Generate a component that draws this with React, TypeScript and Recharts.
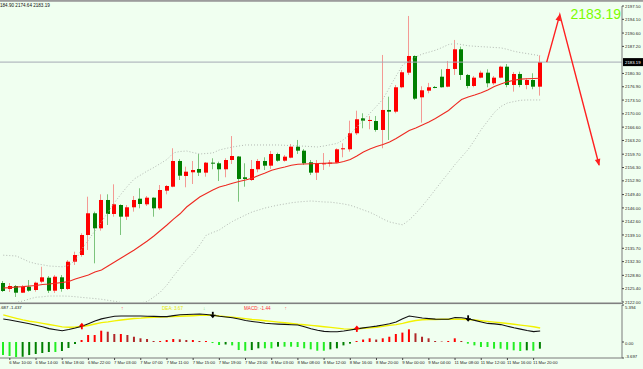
import React from "react"
import { ComposedChart, Bar, Line, XAxis, YAxis, ReferenceLine, Cell } from "recharts"

// H1 candles, oldest first
const openP = [
  2126.85, 2125.32, 2126.08, 2124.37, 2125.90, 2125.06, 2127.18, 2128.20, 2124.88, 2128.30,
  2125.32, 2132.28, 2133.99, 2139.09, 2144.63, 2140.80, 2148.02, 2144.45, 2146.74, 2143.76,
  2146.16, 2148.35, 2146.92, 2148.61, 2145.90, 2150.39, 2151.41, 2157.97, 2154.14, 2155.09,
  2155.93, 2154.99, 2157.54, 2157.38, 2155.85, 2158.22, 2159.11, 2153.81, 2153.12, 2155.85,
  2157.97, 2156.77, 2159.75, 2158.04, 2158.81, 2161.62, 2160.60, 2157.64, 2154.99, 2157.12,
  2157.38, 2157.54, 2160.95, 2160.95, 2165.04, 2168.86, 2168.17, 2168.17, 2165.88, 2170.98,
  2170.55, 2176.77, 2180.49, 2184.75, 2174.21, 2175.90, 2176.85, 2179.47, 2176.92, 2181.44,
  2186.46, 2179.91, 2177.10, 2179.22, 2180.49, 2177.79, 2179.22, 2182.02, 2177.36, 2180.16,
  2177.36, 2178.63, 2176.92,
]
const highP = [
  2127.36, 2126.85, 2126.34, 2126.34, 2127.61, 2127.18, 2131.00, 2128.63, 2128.89, 2128.89,
  2132.71, 2134.83, 2139.52, 2148.86, 2145.04, 2149.47, 2149.47, 2152.02, 2146.92, 2146.74,
  2149.04, 2151.01, 2149.04, 2148.70, 2151.84, 2151.84, 2161.21, 2158.48, 2156.52, 2157.97,
  2159.75, 2157.71, 2158.66, 2157.79, 2158.66, 2164.33, 2159.24, 2157.38, 2158.22, 2158.48,
  2158.91, 2160.52, 2160.09, 2159.50, 2162.30, 2163.33, 2161.03, 2158.22, 2158.22, 2159.99,
  2158.22, 2161.21, 2162.48, 2168.25, 2170.80, 2170.14, 2169.45, 2169.45, 2185.01, 2174.37,
  2177.36, 2181.18, 2194.96, 2184.90, 2177.02, 2177.88, 2177.10, 2181.36, 2183.48, 2188.84,
  2187.13, 2180.16, 2179.65, 2181.01, 2181.36, 2179.65, 2182.27, 2182.71, 2180.67, 2180.75,
  2179.06, 2180.34, 2184.90,
]
const lowP = [
  2124.55, 2124.55, 2123.28, 2124.30, 2124.63, 2124.63, 2126.77, 2124.30, 2124.30, 2124.63,
  2125.06, 2131.44, 2133.56, 2135.27, 2131.87, 2140.19, 2141.64, 2143.76, 2139.09, 2142.92,
  2145.04, 2145.90, 2146.49, 2143.76, 2145.47, 2149.47, 2151.26, 2153.12, 2151.26, 2152.10,
  2154.14, 2153.96, 2155.85, 2152.87, 2153.81, 2157.20, 2147.59, 2151.41, 2152.87, 2155.09,
  2155.67, 2155.93, 2157.79, 2157.79, 2158.66, 2159.75, 2156.95, 2154.40, 2153.12, 2155.67,
  2156.52, 2157.38, 2158.91, 2160.34, 2164.60, 2166.31, 2166.06, 2165.44, 2161.21, 2163.33,
  2170.14, 2176.51, 2179.91, 2173.53, 2167.74, 2175.24, 2176.51, 2176.70, 2176.77, 2179.91,
  2178.63, 2176.51, 2176.77, 2179.06, 2176.77, 2177.36, 2179.06, 2176.77, 2175.66, 2176.77,
  2176.26, 2176.26, 2174.64,
]
const closeP = [
  2124.81, 2126.08, 2124.37, 2125.90, 2124.88, 2126.92, 2128.30, 2124.88, 2128.45, 2125.32,
  2132.28, 2133.99, 2139.09, 2144.63, 2140.80, 2148.02, 2144.45, 2146.92, 2143.76, 2146.16,
  2148.02, 2147.00, 2148.61, 2145.90, 2150.57, 2151.59, 2157.97, 2154.22, 2155.24, 2155.67,
  2154.99, 2157.54, 2157.38, 2155.85, 2158.22, 2159.24, 2153.38, 2153.38, 2155.93, 2157.97,
  2156.77, 2159.75, 2158.04, 2159.07, 2161.62, 2160.60, 2157.38, 2154.99, 2157.38, 2157.38,
  2157.54, 2160.95, 2161.21, 2165.04, 2168.61, 2168.25, 2168.43, 2165.88, 2170.98, 2170.55,
  2176.77, 2180.60, 2184.75, 2173.86, 2176.00, 2176.77, 2176.67, 2176.77, 2181.44, 2186.46,
  2179.91, 2177.10, 2179.22, 2180.49, 2177.79, 2179.22, 2182.02, 2177.36, 2180.16, 2177.36,
  2178.63, 2176.92, 2183.19,
]

// moving average and bands
const maLine = [
  2125.57, 2125.67, 2125.83, 2125.93, 2126.08, 2126.21, 2126.46, 2126.59, 2126.77, 2126.97,
  2127.23, 2127.87, 2128.38, 2128.89, 2129.65, 2130.16, 2131.18, 2132.20, 2133.22, 2134.24,
  2135.27, 2136.41, 2137.56, 2138.84, 2140.24, 2141.64, 2143.12, 2144.50, 2146.23, 2147.51,
  2148.79, 2149.68, 2150.57, 2151.34, 2151.77, 2152.31, 2152.74, 2153.12, 2153.56, 2154.27,
  2154.91, 2155.60, 2156.06, 2156.44, 2156.87, 2157.15, 2157.20, 2157.25, 2157.33, 2157.38,
  2157.41, 2157.46, 2157.84, 2158.35, 2159.24, 2160.27, 2161.03, 2161.67, 2162.18, 2162.82,
  2163.71, 2164.73, 2165.75, 2166.39, 2167.15, 2167.92, 2168.81, 2169.83, 2170.85, 2172.26,
  2173.66, 2174.30, 2174.80, 2175.37, 2176.08, 2176.97, 2177.61, 2178.17, 2178.56, 2178.84,
  2178.94, 2179.01, 2179.07,
]
const bbUpper = [
  2133.94, 2133.84, 2133.73, 2132.97, 2132.20, 2131.77, 2131.49, 2131.18, 2131.08, 2130.98,
  2131.31, 2132.64, 2135.52, 2137.82, 2140.11, 2142.41, 2144.96, 2147.38, 2149.55, 2151.59,
  2153.38, 2154.40, 2155.42, 2156.31, 2157.33, 2158.35, 2160.06, 2160.39, 2160.52, 2160.11,
  2159.75, 2159.88, 2160.01, 2160.78, 2161.16, 2161.54, 2161.80, 2162.05, 2162.05, 2162.05,
  2162.05, 2162.05, 2162.05, 2161.97, 2161.90, 2161.80, 2161.75, 2161.64, 2161.54, 2161.80,
  2162.13, 2162.46, 2163.45, 2164.86, 2166.64, 2168.43, 2170.14, 2171.92, 2173.79, 2176.72,
  2179.65, 2182.46, 2183.48, 2184.50, 2185.26, 2185.72, 2186.21, 2186.90, 2187.66, 2187.94,
  2187.66, 2187.36, 2187.23, 2187.13, 2187.03, 2186.92, 2186.82, 2186.44, 2185.95, 2185.62,
  2185.37, 2185.09, 2184.81,
]
const bbLower = [
  2121.59, 2121.74, 2121.92, 2122.26, 2122.77, 2123.22, 2123.33, 2123.53, 2123.53, 2123.53,
  2123.48, 2123.35, 2123.17, 2123.02, 2122.87, 2122.69, 2122.43, 2122.18, 2121.87, 2121.74,
  2121.67, 2121.74, 2122.13, 2123.28, 2124.55, 2126.34, 2128.63, 2130.67, 2132.71, 2134.37,
  2136.54, 2139.04, 2139.73, 2140.37, 2141.52, 2142.54, 2143.38, 2144.19, 2144.96, 2145.47,
  2145.98, 2146.36, 2146.74, 2147.00, 2147.31, 2147.51, 2147.64, 2147.77, 2147.64, 2147.51,
  2147.46, 2147.25, 2147.00, 2146.67, 2146.08, 2145.47, 2144.88, 2144.07, 2143.17, 2142.41,
  2142.03, 2141.69, 2142.92, 2144.58, 2146.49, 2148.53, 2150.70, 2152.87, 2154.91, 2157.08,
  2158.99, 2160.90, 2163.33, 2166.00, 2168.17, 2170.34, 2171.87, 2172.76, 2173.12, 2173.45,
  2173.53, 2173.53, 2173.53,
]

// MACD pane
const difLine = [
  3.35, 3.21, 3.03, 2.84, 2.65, 2.43, 2.22, 1.95, 1.79, 1.65,
  1.82, 2.04, 2.29, 2.67, 3.06, 3.37, 3.57, 3.76, 3.79, 3.79,
  3.79, 3.79, 3.76, 3.73, 3.70, 3.70, 3.85, 3.98, 4.02, 4.05,
  4.08, 4.01, 3.89, 3.75, 3.64, 3.53, 3.35, 3.13, 2.99, 2.87,
  2.74, 2.67, 2.61, 2.57, 2.52, 2.48, 2.23, 1.92, 1.71, 1.55,
  1.50, 1.50, 1.60, 1.75, 1.91, 2.06, 2.19, 2.32, 2.48, 2.65,
  2.92, 3.38, 3.79, 3.64, 3.50, 3.41, 3.34, 3.32, 3.31, 3.56,
  3.53, 3.38, 3.15, 2.92, 2.71, 2.64, 2.54, 2.30, 2.07, 1.88,
  1.68, 1.52, 1.60,
]
const deaLine = [
  3.95, 3.70, 3.45, 3.22, 3.03, 2.89, 2.71, 2.55, 2.38, 2.20,
  2.16, 2.19, 2.26, 2.41, 2.62, 2.83, 2.94, 3.08, 3.21, 3.32,
  3.43, 3.48, 3.57, 3.60, 3.64, 3.67, 3.72, 3.76, 3.79, 3.83,
  3.88, 3.91, 3.91, 3.79, 3.70, 3.62, 3.51, 3.41, 3.29, 3.21,
  3.10, 3.00, 2.90, 2.80, 2.70, 2.59, 2.51, 2.42, 2.33, 2.23,
  2.13, 2.03, 1.92, 1.88, 1.90, 2.00, 2.07, 2.16, 2.29, 2.42,
  2.54, 2.71, 2.96, 3.13, 3.24, 3.28, 3.29, 3.31, 3.31, 3.31,
  3.31, 3.29, 3.21, 3.10, 3.00, 2.90, 2.80, 2.70, 2.58, 2.46,
  2.35, 2.23, 2.04,
]
const histVals = [
  -1.90, -2.04, -2.19, -2.15, -1.90, -1.75, -1.60, -1.46, -1.46, -1.31,
  -0.87, -0.29, 0.29, 1.02, 1.02, 1.65, 1.50, 1.17, 1.17, 1.02,
  0.77, 0.54, 0.44, 0.15, 0.15, 0.29, 0.44, 0.39, 0.29, 0.29,
  0.15, 0.15, -0.15, -0.44, -0.36, -0.49, -1.17, -1.27, -1.17, -0.92,
  -0.92, -0.92, -0.68, -0.68, -0.68, -0.73, -0.92, -1.07, -1.27, -1.27,
  -1.07, -0.92, -0.49, -0.24, 0.15, 0.36, 0.54, 0.36, 0.54, 0.77,
  1.17, 1.37, 1.85, 1.27, 0.77, 0.54, 0.15, 0.07, 0.15, 0.54,
  0.15, -0.24, -0.49, -0.73, -0.73, -0.97, -0.97, -1.12, -1.21, -1.31,
  -1.21, -1.27, -0.97,
]
const crossUpIdx = [12, 54]
const crossDownIdx = [32, 71]

// chart has empty room on the right for the drawn arrow
const slotCount = 95
const arrowIdx = [83, 85, 91]
const arrowPrice = [2183.19, 2195.3, 2156.95]
const lastPrice = 2183.19

const timeTickIdx = [1, 5, 9, 13, 17, 21, 25, 29, 33, 37, 41, 45, 49, 53, 57, 61, 65, 69, 73, 77, 81]
const timeLabels = [
  "6 Mar 10:00", "6 Mar 14:00", "6 Mar 18:00", "6 Mar 22:00", "7 Mar 03:00", "7 Mar 07:00",
  "7 Mar 11:00", "7 Mar 15:00", "7 Mar 19:00", "7 Mar 23:00", "8 Mar 03:00", "8 Mar 08:00",
  "8 Mar 12:00", "8 Mar 16:00", "8 Mar 20:00", "9 Mar 00:00", "9 Mar 04:00", "11 Mar 08:00",
  "11 Mar 12:00", "11 Mar 16:00", "11 Mar 20:00",
]
// 2183.80 sits under the last-price box, so it is left out
const priceTickLabels = [
  "2122.00", "2125.40", "2128.80", "2132.30", "2135.70", "2139.10", "2142.60", "2146.00",
  "2149.40", "2152.90", "2156.30", "2159.70", "2163.20", "2166.60", "2170.00", "2173.50",
  "2176.90", "2180.30", "2187.20", "2190.60", "2194.10", "2197.50",
]
const priceTicks = priceTickLabels.map(Number)
const macdTicks = [5.394, 0, -2.33]
const macdTickLabels = ["5.394", "0.00", "-3.697"]

const rows = Array.from({ length: slotCount }, (_, i) => {
  const has = i < closeP.length
  const a = arrowIdx.indexOf(i)
  return {
    i,
    range: has ? [lowP[i], highP[i]] : null,
    open: has ? openP[i] : null,
    high: has ? highP[i] : null,
    low: has ? lowP[i] : null,
    close: has ? closeP[i] : null,
    ma: has ? maLine[i] : null,
    upper: has ? bbUpper[i] : null,
    lower: has ? bbLower[i] : null,
    arrow: a >= 0 ? arrowPrice[a] : null,
    dif: has ? difLine[i] : null,
    dea: has ? deaLine[i] : null,
    hist: has ? histVals[i] : null,
    up: crossUpIdx.includes(i) ? difLine[i] : null,
    down: crossDownIdx.includes(i) ? difLine[i] : null,
  }
})

const FONT = "'Liberation Sans', Arial, sans-serif"

function Candle(props: any) {
  const { x, y, width, height, payload } = props
  if (!payload || payload.open == null || y == null || isNaN(y)) return <g />
  const { open, close, high, low } = payload
  const top = Math.min(y, y + height)
  const h = Math.abs(height)
  const ppu = high > low ? h / (high - low) : 0
  const yOf = (v: number) => top + (high - v) * ppu
  const up = close >= open
  const bTop = yOf(Math.max(open, close))
  const bBot = yOf(Math.min(open, close))
  const cx = Math.round(x + width / 2) - 0.5
  return (
    <g>
      <line x1={cx} x2={cx} y1={top} y2={top + h} stroke={up ? "#f49a94" : "#7cc47c"} strokeWidth={1} />
      <rect x={Math.round(x)} y={bTop} width={width} height={Math.max(1, bBot - bTop)} fill={up ? "#ff0000" : "#007f00"} />
    </g>
  )
}

function ArrowHead(props: any) {
  const { cx, cy, index, points } = props
  if (cx == null || cy == null || isNaN(cy) || !points) return <g key={`ah-${index}`} />
  let prev: any = null
  for (let k = index - 1; k >= 0; k--) {
    const p = points[k]
    if (p && p.value != null && p.y != null && !isNaN(p.y)) {
      prev = p
      break
    }
  }
  if (!prev) return <g key={`ah-${index}`} />
  const ang = (Math.atan2(cy - prev.y, cx - prev.x) * 180) / Math.PI
  return (
    <polygon
      key={`ah-${index}`}
      points="1,0 -6,-2.8 -6,2.8"
      transform={`translate(${cx},${cy}) rotate(${ang})`}
      fill="#ff2020"
    />
  )
}

function PriceTick(props: any) {
  const { x, y, payload } = props
  const k = priceTicks.indexOf(payload.value)
  return (
    <text x={x} y={y} dy={1.6} fontSize={4.3} fill="#222" fontFamily={FONT} textAnchor="start">
      {priceTickLabels[k]}
    </text>
  )
}

function PriceBox(props: any) {
  const vb = props.viewBox || {}
  const x = (vb.x || 0) + (vb.width || 0)
  const y = vb.y || 0
  return (
    <g>
      <rect x={x + 1} y={y - 4} width={20} height={8} fill="#000" />
      <text x={x + 3} y={y + 1.6} fontSize={4.3} fill="#fff" fontFamily={FONT}>
        {lastPrice.toFixed(2)}
      </text>
    </g>
  )
}

function TimeTick(props: any) {
  const { x, y, payload } = props
  const k = timeTickIdx.indexOf(payload.value)
  return (
    <text x={x - 0.5} y={y} dy={3.6} fontSize={4.2} fill="#222" fontFamily={FONT} textAnchor="start">
      {timeLabels[k]}
    </text>
  )
}

function MacdTick(props: any) {
  const { x, y, payload } = props
  const k = macdTicks.indexOf(payload.value)
  const dy = k === 0 ? 3.6 : k === 1 ? 2.6 : -0.4
  return (
    <text x={x} y={y} dy={dy} fontSize={4.3} fill="#222" fontFamily={FONT} textAnchor="start">
      {macdTickLabels[k]}
    </text>
  )
}

function UpArrow(props: any) {
  const { cx, cy, index } = props
  if (cx == null || cy == null || isNaN(cy)) return <g key={`ua-${index}`} />
  return (
    <g key={`ua-${index}`} transform={`translate(${cx},${cy})`} fill="#ff0000">
      <polygon points="0,-3.5 -3,0 3,0" />
      <rect x={-0.9} y={0} width={1.8} height={3} />
    </g>
  )
}

function DownArrow(props: any) {
  const { cx, cy, index } = props
  if (cx == null || cy == null || isNaN(cy)) return <g key={`da-${index}`} />
  return (
    <g key={`da-${index}`} transform={`translate(${cx},${cy})`} fill="#000">
      <polygon points="0,3 -3,-0.5 3,-0.5" />
      <rect x={-0.9} y={-3.5} width={1.8} height={3} />
    </g>
  )
}

function histColor(i: number) {
  const v = histVals[i]
  if (v == null) return "none"
  const p = i > 0 ? histVals[i - 1] : v
  if (v >= 0) return v >= p ? "#ff0000" : "#b02828"
  return v <= p ? "#22ee22" : "#008000"
}

export default function App() {
  return (
    <div
      style={{
        position: "absolute",
        left: 0,
        top: 0,
        width: 643,
        height: 369,
        background: "#f0fff0",
        overflow: "hidden",
        fontFamily: FONT,
      }}
    >
      <div style={{ position: "absolute", left: 0, top: 0 }}>
        <ComposedChart width={643} height={304} data={rows} margin={{ top: 6, right: 0, bottom: 2, left: 0 }}>
          <XAxis dataKey="i" hide />
          <YAxis
            orientation="right"
            width={21}
            domain={[2122, 2197.5]}
            allowDataOverflow
            ticks={priceTicks}
            interval={0}
            tickSize={2}
            tickMargin={1}
            tick={PriceTick}
            axisLine={{ stroke: "#7a7a7a" }}
            tickLine={{ stroke: "#444" }}
          />
          <Line dataKey="upper" stroke="#b2b8b2" strokeWidth={1} strokeDasharray="1 2" dot={false} isAnimationActive={false} />
          <Line dataKey="lower" stroke="#b2b8b2" strokeWidth={1} strokeDasharray="1 2" dot={false} isAnimationActive={false} />
          <Line dataKey="ma" stroke="#ee2a22" strokeWidth={1.1} dot={false} isAnimationActive={false} />
          <ReferenceLine y={lastPrice} stroke="#a4a9b4" strokeWidth={1} label={PriceBox} />
          <Bar dataKey="range" barSize={4} shape={Candle} isAnimationActive={false} />
          <Line
            dataKey="arrow"
            connectNulls
            stroke="#ff2020"
            strokeWidth={1.4}
            dot={ArrowHead}
            activeDot={false}
            isAnimationActive={false}
          />
        </ComposedChart>
      </div>

      <div style={{ position: "absolute", left: 0, top: 304 }}>
        <ComposedChart width={643} height={65} data={rows} margin={{ top: 1, right: 0, bottom: 0, left: 0 }}>
          <XAxis
            dataKey="i"
            ticks={timeTickIdx}
            interval={0}
            height={11}
            tickSize={2}
            tickMargin={0}
            tick={TimeTick}
            axisLine={{ stroke: "#7a7a7a" }}
            tickLine={{ stroke: "#444" }}
          />
          <YAxis
            orientation="right"
            width={21}
            domain={[-2.33, 5.394]}
            allowDataOverflow
            ticks={macdTicks}
            interval={0}
            tickSize={2}
            tickMargin={1}
            tick={MacdTick}
            axisLine={{ stroke: "#7a7a7a" }}
            tickLine={{ stroke: "#444" }}
          />
          <Bar dataKey="hist" barSize={2} isAnimationActive={false}>
            {rows.map((r) => (
              <Cell key={r.i} fill={histColor(r.i)} />
            ))}
          </Bar>
          <Line dataKey="dea" stroke="#f2f200" strokeWidth={1.4} dot={false} isAnimationActive={false} />
          <Line dataKey="dif" stroke="#111" strokeWidth={1.1} dot={false} isAnimationActive={false} />
          <Line dataKey="up" stroke="none" dot={UpArrow} activeDot={false} isAnimationActive={false} />
          <Line dataKey="down" stroke="none" dot={DownArrow} activeDot={false} isAnimationActive={false} />
        </ComposedChart>
      </div>

      <svg
        width={643}
        height={369}
        style={{ position: "absolute", left: 0, top: 0, pointerEvents: "none" }}
        fontFamily={FONT}
      >
        <rect x={0} y={0} width={643} height={1.8} fill="#9c9c9c" />
        <rect x={0} y={302.5} width={623} height={1.6} fill="#808080" />
        <text x={0} y={6.6} fontSize={4.6} fill="#111">184.90 2174.64 2183.19</text>
        <text x={621} y={18.5} fontSize={14} fill="#7cfc00" textAnchor="end">2183.19</text>
        <text x={0} y={309} fontSize={4.3} fill="#111">.687 -1.437</text>
        <text x={121} y={309.5} fontSize={5} fill="#ff7070">↑</text>
        <text x={162} y={309.5} fontSize={4.6} fill="#e6e600">DEA:  3.67</text>
        <text x={203} y={309.5} fontSize={5} fill="#80dd80">↓</text>
        <text x={244} y={309.5} fontSize={4.6} fill="#ff3030">MACD:  -1.44</text>
        <text x={284.5} y={309.5} fontSize={5} fill="#ff8080">↑</text>
      </svg>
    </div>
  )
}
